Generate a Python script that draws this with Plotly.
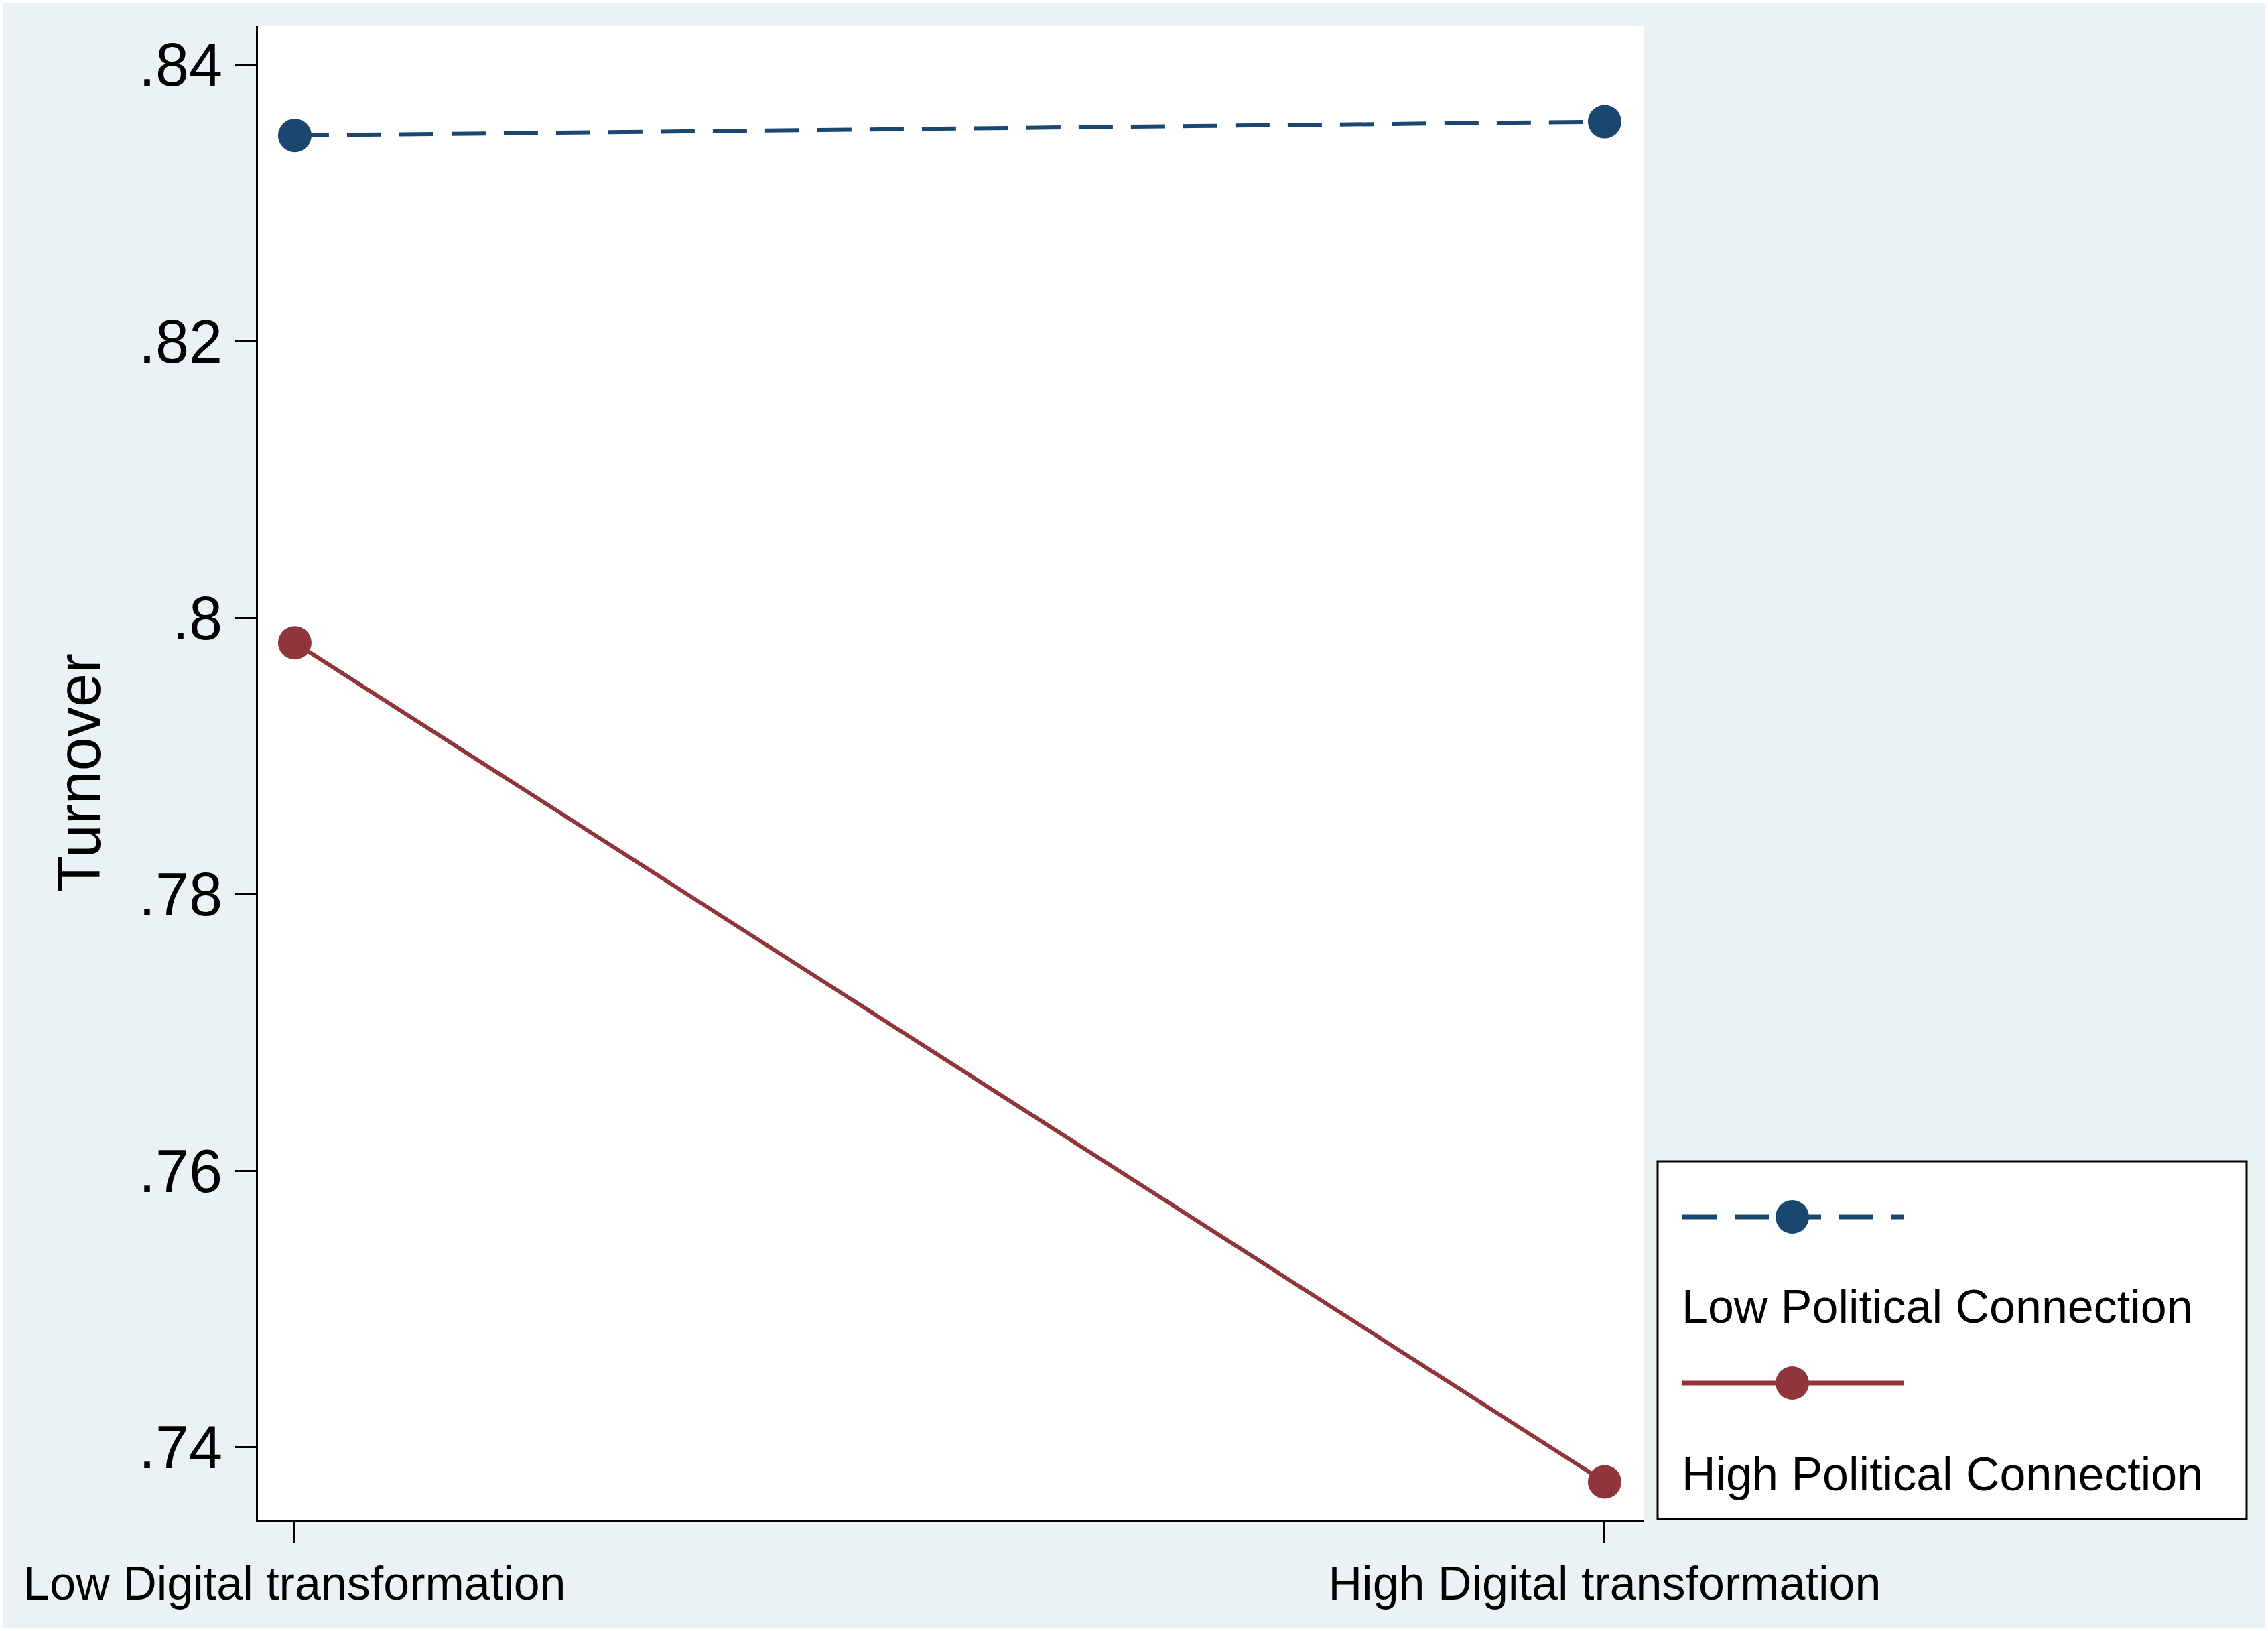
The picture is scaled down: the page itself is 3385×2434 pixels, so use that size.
import plotly.graph_objects as go

# ---- data ----
categories = ["Low Digital transformation", "High Digital transformation"]
x_pos = [0, 1]
series_names = ["Low Political Connection", "High Political Connection"]
low_pc = [0.8349, 0.8359]
high_pc = [0.7982, 0.7375]
y_ticks = [0.74, 0.76, 0.78, 0.80, 0.82, 0.84]
y_tick_labels = [".74", ".76", ".78", ".8", ".82", ".84"]

# ---- geometry / style ----
W, H = 3385, 2434
L, R, T, B = 385, 2453, 39, 2268
NAVY = "#1A476F"
MAROON = "#90353B"
BG = "#EAF2F3"
FONT = "Liberation Sans, Arial, sans-serif"
DASH = "51px,27px"


def px2x(px):
    return (px - L) / (R - L)


def py2y(py):
    return (B - py) / (B - T)


fig = go.Figure()
fig.add_trace(go.Scatter(
    x=x_pos, y=low_pc, name=series_names[0], mode="lines+markers",
    line=dict(color=NAVY, width=6, dash=DASH),
    marker=dict(size=50, color=NAVY), showlegend=False))
fig.add_trace(go.Scatter(
    x=x_pos, y=high_pc, name=series_names[1], mode="lines+markers",
    line=dict(color=MAROON, width=6),
    marker=dict(size=50, color=MAROON), showlegend=False))

shapes = []
annotations = []
# outer thin white frame
shapes.append(dict(type="rect", xref="paper", yref="paper",
                   x0=px2x(0), x1=px2x(W), y0=py2y(H), y1=py2y(0),
                   line=dict(color="white", width=10), fillcolor="rgba(0,0,0,0)",
                   layer="above"))
# legend box
shapes.append(dict(type="rect", xref="paper", yref="paper",
                   x0=px2x(2474), x1=px2x(3353), y0=py2y(2267), y1=py2y(1733),
                   line=dict(color="black", width=3), fillcolor="white", layer="below"))
rows = [(1816, 1950, NAVY, DASH, series_names[0]),
        (2064, 2200, MAROON, "solid", series_names[1])]
for ysym, ytxt, col, dash, label in rows:
    shapes.append(dict(type="line", xref="paper", yref="paper",
                       x0=px2x(2511), x1=px2x(2841), y0=py2y(ysym), y1=py2y(ysym),
                       line=dict(color=col, width=7, dash=dash)))
    r = 25
    shapes.append(dict(type="circle", xref="paper", yref="paper",
                       x0=px2x(2675 - r), x1=px2x(2675 + r),
                       y0=py2y(ysym + r), y1=py2y(ysym - r),
                       line=dict(color=col, width=0), fillcolor=col))
    annotations.append(dict(xref="paper", yref="paper", x=px2x(2508), y=py2y(ytxt),
                            xanchor="left", yanchor="middle", showarrow=False,
                            text=label, font=dict(family=FONT, size=70, color="black")))

fig.update_layout(
    width=W, height=H,
    margin=dict(l=L, r=W - R, t=T, b=H - B, pad=0, autoexpand=False),
    paper_bgcolor=BG, plot_bgcolor="white",
    font=dict(family=FONT, color="black"),
    shapes=shapes, annotations=annotations,
    showlegend=False,
    xaxis=dict(range=[-0.0281, 1.0297], tickmode="array", tickvals=x_pos, ticktext=categories,
               showline=True, linecolor="black", linewidth=3, mirror=False,
               ticks="outside", ticklen=32, tickwidth=3, tickcolor="black",
               tickfont=dict(family=FONT, size=70, color="black"),
               showgrid=False, zeroline=False, automargin=False),
    yaxis=dict(range=[0.73476, 0.84281], tickmode="array", tickvals=y_ticks, ticktext=y_tick_labels,
               showline=True, linecolor="black", linewidth=3, mirror=False,
               ticks="outside", ticklen=32, tickwidth=3, tickcolor="black",
               tickfont=dict(family=FONT, size=90, color="black"),
               showgrid=False, zeroline=False, automargin=False,
               title=dict(text="Turnover", font=dict(family=FONT, size=90, color="black"),
                          standoff=28)),
)

fig.write_html("out.html", config={"displayModeBar": False},
               post_script="document.body.style.margin='0';document.body.style.overflow='hidden';")
